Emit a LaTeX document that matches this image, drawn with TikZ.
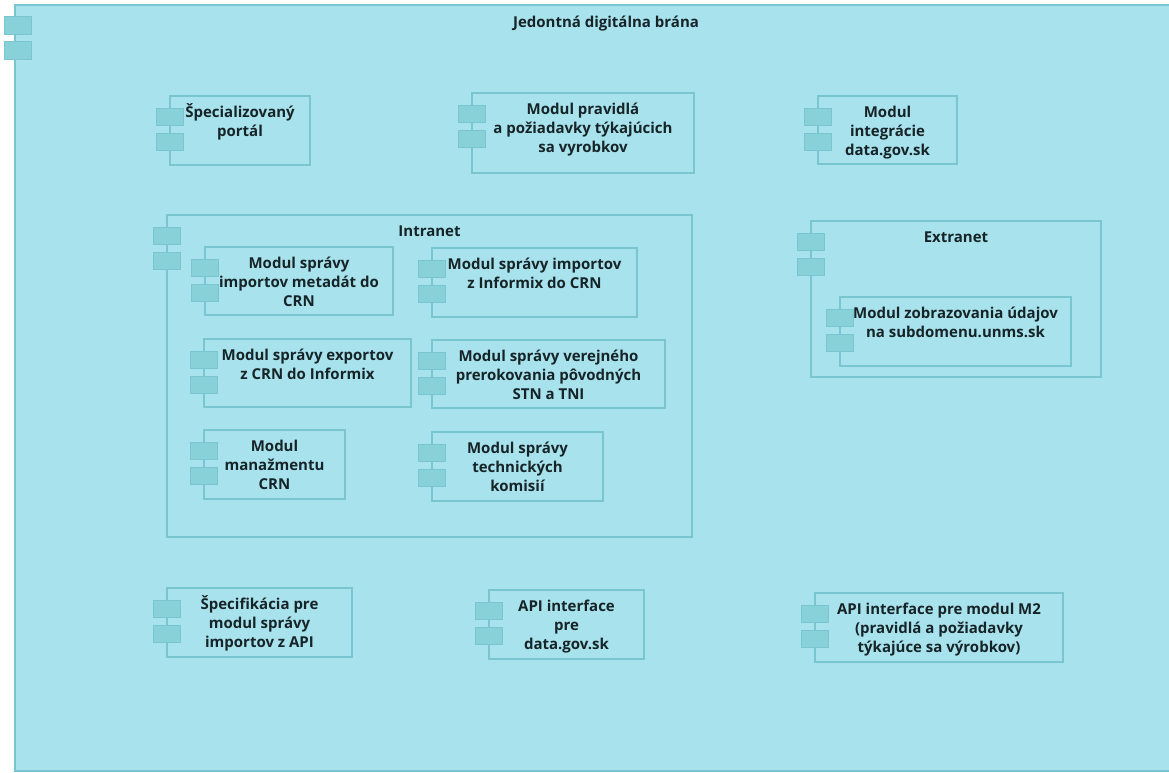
\documentclass[tikz,border=0pt]{standalone}
\usepackage{fontspec}
\setmainfont{Open Sans}
\definecolor{bgc}{RGB}{168,226,236}
\definecolor{edgec}{RGB}{122,198,208}
\definecolor{tabc}{RGB}{136,209,217}
\definecolor{txtc}{RGB}{22,36,40}
\tikzset{
  compbox/.style={draw=edgec, line width=1.1pt, fill=bgc},
  tabbox/.style={draw=edgec, line width=0.8pt, fill=tabc},
  lbl/.style={anchor=base, align=center, inner sep=0pt, text=txtc,
    font=\bfseries\fontsize{15}{19}\selectfont}
}
% name, x1, y1, x2, y2, number of lines, text
\newcommand\mycomp[7]{%
  \draw[compbox] (#2,#3) rectangle (#4,#5);
  \draw[tabbox] (#2-14,#3+12) rectangle (#2+13,#3+29);
  \draw[tabbox] (#2-14,#3+37) rectangle (#2+13,#3+54);
  \node[lbl] (#1) at ({(#2+#4)/2},{#3+21+19*(#6-1)}) {#7};
}
\begin{document}
\begin{tikzpicture}[x=1pt,y=-1pt]
\useasboundingbox (0,0) rectangle (1169,773);
\fill[white] (0,0) rectangle (1169,773);
% outer frame
\draw[compbox] (15,5) rectangle (1185,771);
\draw[tabbox] (4,16) rectangle (31,34);
\draw[tabbox] (4,41) rectangle (31,59);
\node[lbl] (jdb) at (606,28) {Jedontná digitálna brána};
% top row
\mycomp{sp}{170}{96}{310}{165}{2}{Špecializovaný\\portál}
\mycomp{pr}{472}{93}{694}{173}{3}{Modul pravidlá\\a požiadavky týkajúcich\\sa vyrobkov}
\mycomp{ig}{818}{96}{957}{164}{3}{Modul\\integrácie\\data.gov.sk}
% intranet
\mycomp{in}{167}{215}{692}{537}{1}{Intranet}
\mycomp{ma}{205}{247}{393}{315}{3}{Modul správy\\importov metadát do\\CRN}
\mycomp{mb}{432}{248}{637}{317}{2}{Modul správy importov\\z Informix do CRN}
\mycomp{mc}{204}{339}{411}{407}{2}{Modul správy exportov\\z CRN do Informix}
\mycomp{md}{432}{340}{665}{408}{3}{Modul správy verejného\\prerokovania pôvodných\\STN a TNI}
\mycomp{me}{204}{430}{345}{499}{3}{Modul\\manažmentu\\CRN}
\mycomp{mf}{432}{432}{603}{501}{3}{Modul správy\\technických\\komisií}
% extranet
\mycomp{ex}{811}{221}{1101}{377}{1}{Extranet}
\mycomp{mg}{840}{297}{1071}{366}{2}{Modul zobrazovania údajov\\na subdomenu.unms.sk}
% bottom row
\mycomp{sa}{167}{588}{352}{657}{3}{Špecifikácia pre\\modul správy\\importov z API}
\mycomp{ap}{489}{590}{644}{659}{3}{API interface\\pre\\data.gov.sk}
\mycomp{am}{815}{593}{1063}{662}{3}{API interface pre modul M2\\(pravidlá a požiadavky\\týkajúce sa výrobkov)}
\end{tikzpicture}
\end{document}
